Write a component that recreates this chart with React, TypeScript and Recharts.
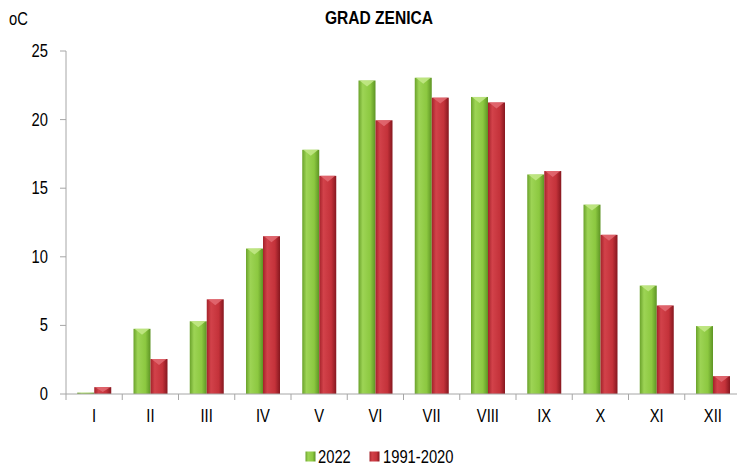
import { Bar, BarChart, Legend, XAxis, YAxis } from "recharts";

const months = ["I", "II", "III", "IV", "V", "VI", "VII", "VIII", "IX", "X", "XI", "XII"];
const temp2022 = [0.1, 4.75, 5.3, 10.6, 17.8, 22.85, 23.05, 21.65, 16.0, 13.8, 7.9, 4.95];
const tempNormal = [0.5, 2.55, 6.9, 11.5, 15.9, 19.95, 21.6, 21.25, 16.25, 11.6, 6.45, 1.3];
const yTicks = [0, 5, 10, 15, 20, 25];

const data = months.map((m, i) => ({ month: m, y2022: temp2022[i], normal: tempNormal[i] }));

// no Arial Narrow here, so squeeze Liberation Sans horizontally
const FONT = '"Liberation Sans", Arial, sans-serif';
const NARROW = 0.82;
const AXIS = "#a6a6a6";

const tones = {
  green: { id: "gGreen", bevel: "#c4e98a" },
  red: { id: "gRed", bevel: "#e36b73" },
};

function NarrowText({ x, y, anchor, children, size = 18, bold = false }: any) {
  return (
    <text
      transform={`translate(${x},${y}) scale(${NARROW},1)`}
      textAnchor={anchor}
      fill="#000"
      fontSize={size}
      fontWeight={bold ? "bold" : "normal"}
      fontFamily={FONT}
    >
      {children}
    </text>
  );
}

function BevelBar(props: any) {
  const { x, y, width, height, tone } = props;
  if (!height || height <= 0) return null;
  const t = tones[tone as "green" | "red"];
  const bh = Math.min(width / 2, height);
  return (
    <g>
      <rect x={x} y={y} width={width} height={height} fill={`url(#${t.id})`} />
      {height > 3 && (
        <polygon
          points={`${x + 1},${y} ${x + width - 1},${y} ${x + width / 2},${y + bh * 0.7}`}
          fill={t.bevel}
          opacity={0.85}
        />
      )}
    </g>
  );
}

function MonthTick(props: any) {
  const { x, y, payload, index } = props;
  const half = payload?.offset ?? 28.125;
  return (
    <g>
      <line x1={x - half} y1={y - 6} x2={x - half} y2={y} stroke={AXIS} />
      {index === months.length - 1 && (
        <line x1={x + half} y1={y - 6} x2={x + half} y2={y} stroke={AXIS} />
      )}
      <NarrowText x={x} y={y + 22} anchor="middle">
        {payload.value}
      </NarrowText>
    </g>
  );
}

function ValueTick(props: any) {
  const { x, y, payload } = props;
  return (
    <NarrowText x={x} y={y + 6} anchor="end">
      {payload.value}
    </NarrowText>
  );
}

function LegendBox() {
  return (
    <svg width={200} height={22}>
      <rect x={0.5} y={5.5} width={10} height={10} fill="url(#gGreen)" />
      <NarrowText x={13} y={17} anchor="start">2022</NarrowText>
      <rect x={64.5} y={5.5} width={10} height={10} fill="url(#gRed)" />
      <NarrowText x={78} y={17} anchor="start">1991-2020</NarrowText>
    </svg>
  );
}

export default function App() {
  return (
    <div
      style={{
        position: "absolute",
        left: 0,
        top: 0,
        width: 737,
        height: 466,
        overflow: "hidden",
        background: "#fff",
      }}
    >
      <svg width={737} height={40} style={{ position: "absolute", left: 0, top: 0 }}>
        <defs>
          <linearGradient id="gGreen" x1="0" y1="0" x2="1" y2="0">
            <stop offset="0%" stopColor="#6aa22b" />
            <stop offset="25%" stopColor="#9dd455" />
            <stop offset="70%" stopColor="#8cc840" />
            <stop offset="100%" stopColor="#5d9424" />
          </linearGradient>
          <linearGradient id="gRed" x1="0" y1="0" x2="1" y2="0">
            <stop offset="0%" stopColor="#a4222a" />
            <stop offset="25%" stopColor="#d2424a" />
            <stop offset="70%" stopColor="#c4323a" />
            <stop offset="100%" stopColor="#86171f" />
          </linearGradient>
        </defs>
        <NarrowText x={379} y={24} anchor="middle" size={19} bold>
          GRAD ZENICA
        </NarrowText>
        <NarrowText x={9} y={25} anchor="start">
          oC
        </NarrowText>
      </svg>
      <BarChart
        width={745}
        height={466}
        data={data}
        margin={{ top: 51, right: 4, left: 0, bottom: 0 }}
        barCategoryGap="20%"
        barGap={0}
      >
        <XAxis
          dataKey="month"
          height={50}
          axisLine={{ stroke: AXIS }}
          tickLine={false}
          tickSize={6}
          tickMargin={0}
          interval={0}
          tick={<MonthTick />}
        />
        <YAxis
          width={66}
          domain={[0, 25]}
          ticks={yTicks}
          axisLine={{ stroke: AXIS }}
          tickLine={{ stroke: AXIS }}
          tickSize={6}
          tickMargin={12}
          tick={<ValueTick />}
        />
        <Legend
          content={() => <LegendBox />}
          wrapperStyle={{ left: 305, top: 446, width: 200, height: 22 }}
        />
        <Bar
          dataKey="y2022"
          name="2022"
          isAnimationActive={false}
          shape={(p: any) => <BevelBar {...p} tone="green" />}
        />
        <Bar
          dataKey="normal"
          name="1991-2020"
          isAnimationActive={false}
          shape={(p: any) => <BevelBar {...p} tone="red" />}
        />
      </BarChart>
    </div>
  );
}
